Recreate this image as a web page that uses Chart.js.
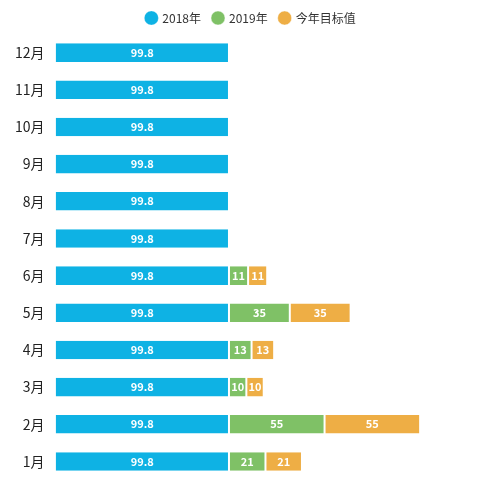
<!DOCTYPE html>
<html><head><meta charset="utf-8">
<script src="https://cdn.jsdelivr.net/npm/chart.js@4/dist/chart.umd.min.js"></script>
<style>html,body{margin:0;padding:0;background:#fff}#w{width:500px;height:500px}</style>
</head><body><div id="w"><canvas id="c"></canvas></div>
<script>
const categories = ['12月','11月','10月','9月','8月','7月','6月','5月','4月','3月','2月','1月'];
const s2018 = [99.8,99.8,99.8,99.8,99.8,99.8,99.8,99.8,99.8,99.8,99.8,99.8];
const s2019 = [0,0,0,0,0,0,11,35,13,10,55,21];
const sTarget = [0,0,0,0,0,0,11,35,13,10,55,21];
const labelPlugin = {
  id:'lbl',
  afterDatasetsDraw(chart){
    const ctx = chart.ctx;
    ctx.save();
    ctx.fillStyle='#fff';
    ctx.font='bold 11px "Noto Sans CJK SC", sans-serif';
    ctx.textAlign='center';ctx.textBaseline='middle';
    chart.data.datasets.forEach((ds,i)=>{
      chart.getDatasetMeta(i).data.forEach((el,j)=>{
        const v = ds.data[j];
        if(!v) return;
        ctx.fillText(String(v),(el.x+el.base)/2,el.y);
      });
    });
    ctx.restore();
  }
};
new Chart(document.getElementById('c'),{
  type:'bar',
  data:{labels:categories,datasets:[
    {label:'2018年',data:s2018,backgroundColor:'#0eb2e4',borderColor:'#fff',borderWidth:{right:1,left:0,top:0,bottom:0},borderSkipped:false},
    {label:'2019年',data:s2019,backgroundColor:'#7fc166',borderColor:'#fff',borderWidth:{right:1,left:1,top:0,bottom:0},borderSkipped:false},
    {label:'今年目标值',data:sTarget,backgroundColor:'#eeae45',borderColor:'#fff',borderWidth:{right:1,left:1,top:0,bottom:0},borderSkipped:false}
  ]},
  options:{
    indexAxis:'y',responsive:true,maintainAspectRatio:false,animation:false,
    layout:{padding:{left:12,right:10,top:0,bottom:20}},
    datasets:{bar:{barPercentage:0.5,categoryPercentage:1}},
    scales:{
      x:{stacked:true,display:false,min:0,max:250},
      y:{stacked:true,grid:{display:false},border:{display:false},
         ticks:{color:'#222',font:{size:14,family:'"Noto Sans CJK SC", sans-serif'}}}
    },
    plugins:{
      legend:{position:'top',labels:{usePointStyle:true,pointStyle:'circle',boxWidth:10,boxHeight:10,color:'#333',font:{size:12,family:'"Noto Sans CJK SC", sans-serif'},padding:12}},
      tooltip:{enabled:false}
    }
  },
  plugins:[labelPlugin]
});
</script></body></html>
